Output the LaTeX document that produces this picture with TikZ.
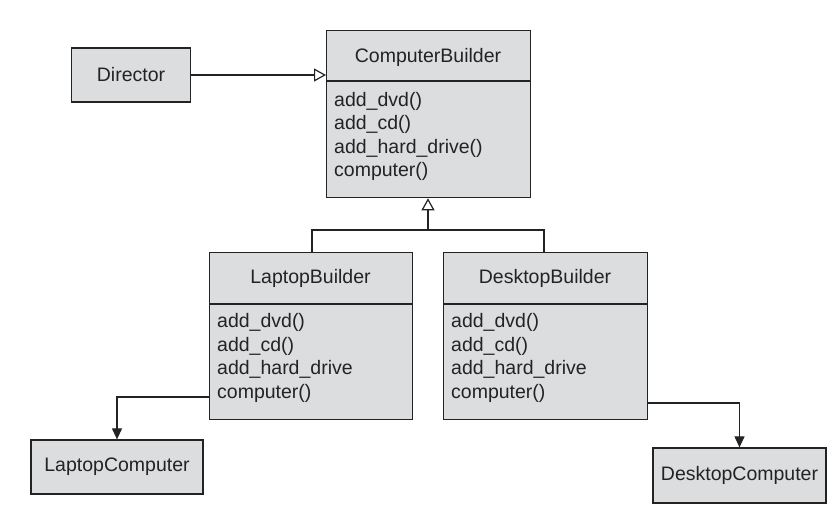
\documentclass[tikz,border=0pt]{standalone}
\usepackage{fontspec}
\setmainfont{Liberation Sans}
\usetikzlibrary{arrows.meta}
\definecolor{boxfill}{RGB}{220,221,223}
\definecolor{ink}{RGB}{35,35,35}
\begin{document}
\begin{tikzpicture}[x=1pt,y=-1pt,
  every node/.style={text=ink,font=\fontsize{19.5}{23.4}\selectfont},
  cls/.style={draw=ink,fill=boxfill,line width=1.3pt,inner sep=0pt,anchor=north west},
  obj/.style={draw=ink,fill=boxfill,line width=1.3pt,inner sep=0pt},
  title/.style={inner sep=0pt},
  meth/.style={inner sep=0pt,align=left,anchor=west},
  wire/.style={draw=ink,line width=1.2pt},
  inh/.style={wire,-{Triangle[open,length=12pt,width=13pt]}},
  nav/.style={wire,-{Triangle[length=11pt,width=10pt]}}]
\useasboundingbox (0,0) rectangle (834,509);
% Director
\node[obj,minimum width=119pt,minimum height=54pt] (dir) at (131,75) {Director};
% ComputerBuilder
\node[cls,minimum width=204pt,minimum height=167pt] (cb) at (326,30) {};
\draw[wire,line width=1.3pt] (326,81) -- (530,81);
\node[title] (cbt) at (428,57) {ComputerBuilder};
\node[meth] (cbm) at (334,136.5) {add\_dvd()\\add\_cd()\\add\_hard\_drive()\\computer()};
% LaptopBuilder
\node[cls,minimum width=203pt,minimum height=167pt] (lb) at (209,252) {};
\draw[wire,line width=1.3pt] (209,304) -- (412,304);
\node[title] (lbt) at (310.5,278) {LaptopBuilder};
\node[meth] (lbm) at (217,358) {add\_dvd()\\add\_cd()\\add\_hard\_drive\\computer()};
% DesktopBuilder
\node[cls,minimum width=204pt,minimum height=167pt] (db) at (443,252) {};
\draw[wire,line width=1.3pt] (443,304) -- (647,304);
\node[title] (dbt) at (545,278) {DesktopBuilder};
\node[meth] (dbm) at (451,358) {add\_dvd()\\add\_cd()\\add\_hard\_drive\\computer()};
% Products
\node[obj,minimum width=172pt,minimum height=54pt] (lc) at (117,467) {LaptopComputer};
\node[obj,minimum width=173pt,minimum height=55pt] (dc) at (739.5,475.5) {DesktopComputer};
% connectors
\draw[inh] (dir.east) -- (dir.east -| cb.west);
\coordinate (bus) at (428,230);
\coordinate (busl) at (312,230);
\coordinate (busr) at (544,230);
\draw[wire] (lb.north -| busl) -- (busl) -- (busr) -- (db.north -| busr);
\draw[inh] (bus) -- (bus |- cb.south);
\coordinate (lbend) at (117,397);
\draw[nav] (lb.west |- lbend) -- (lbend) -- (lc.north);
\coordinate (dbend) at (739.5,403);
\draw[nav] (db.east |- dbend) -- (dbend) -- (dc.north);
\end{tikzpicture}
\end{document}
